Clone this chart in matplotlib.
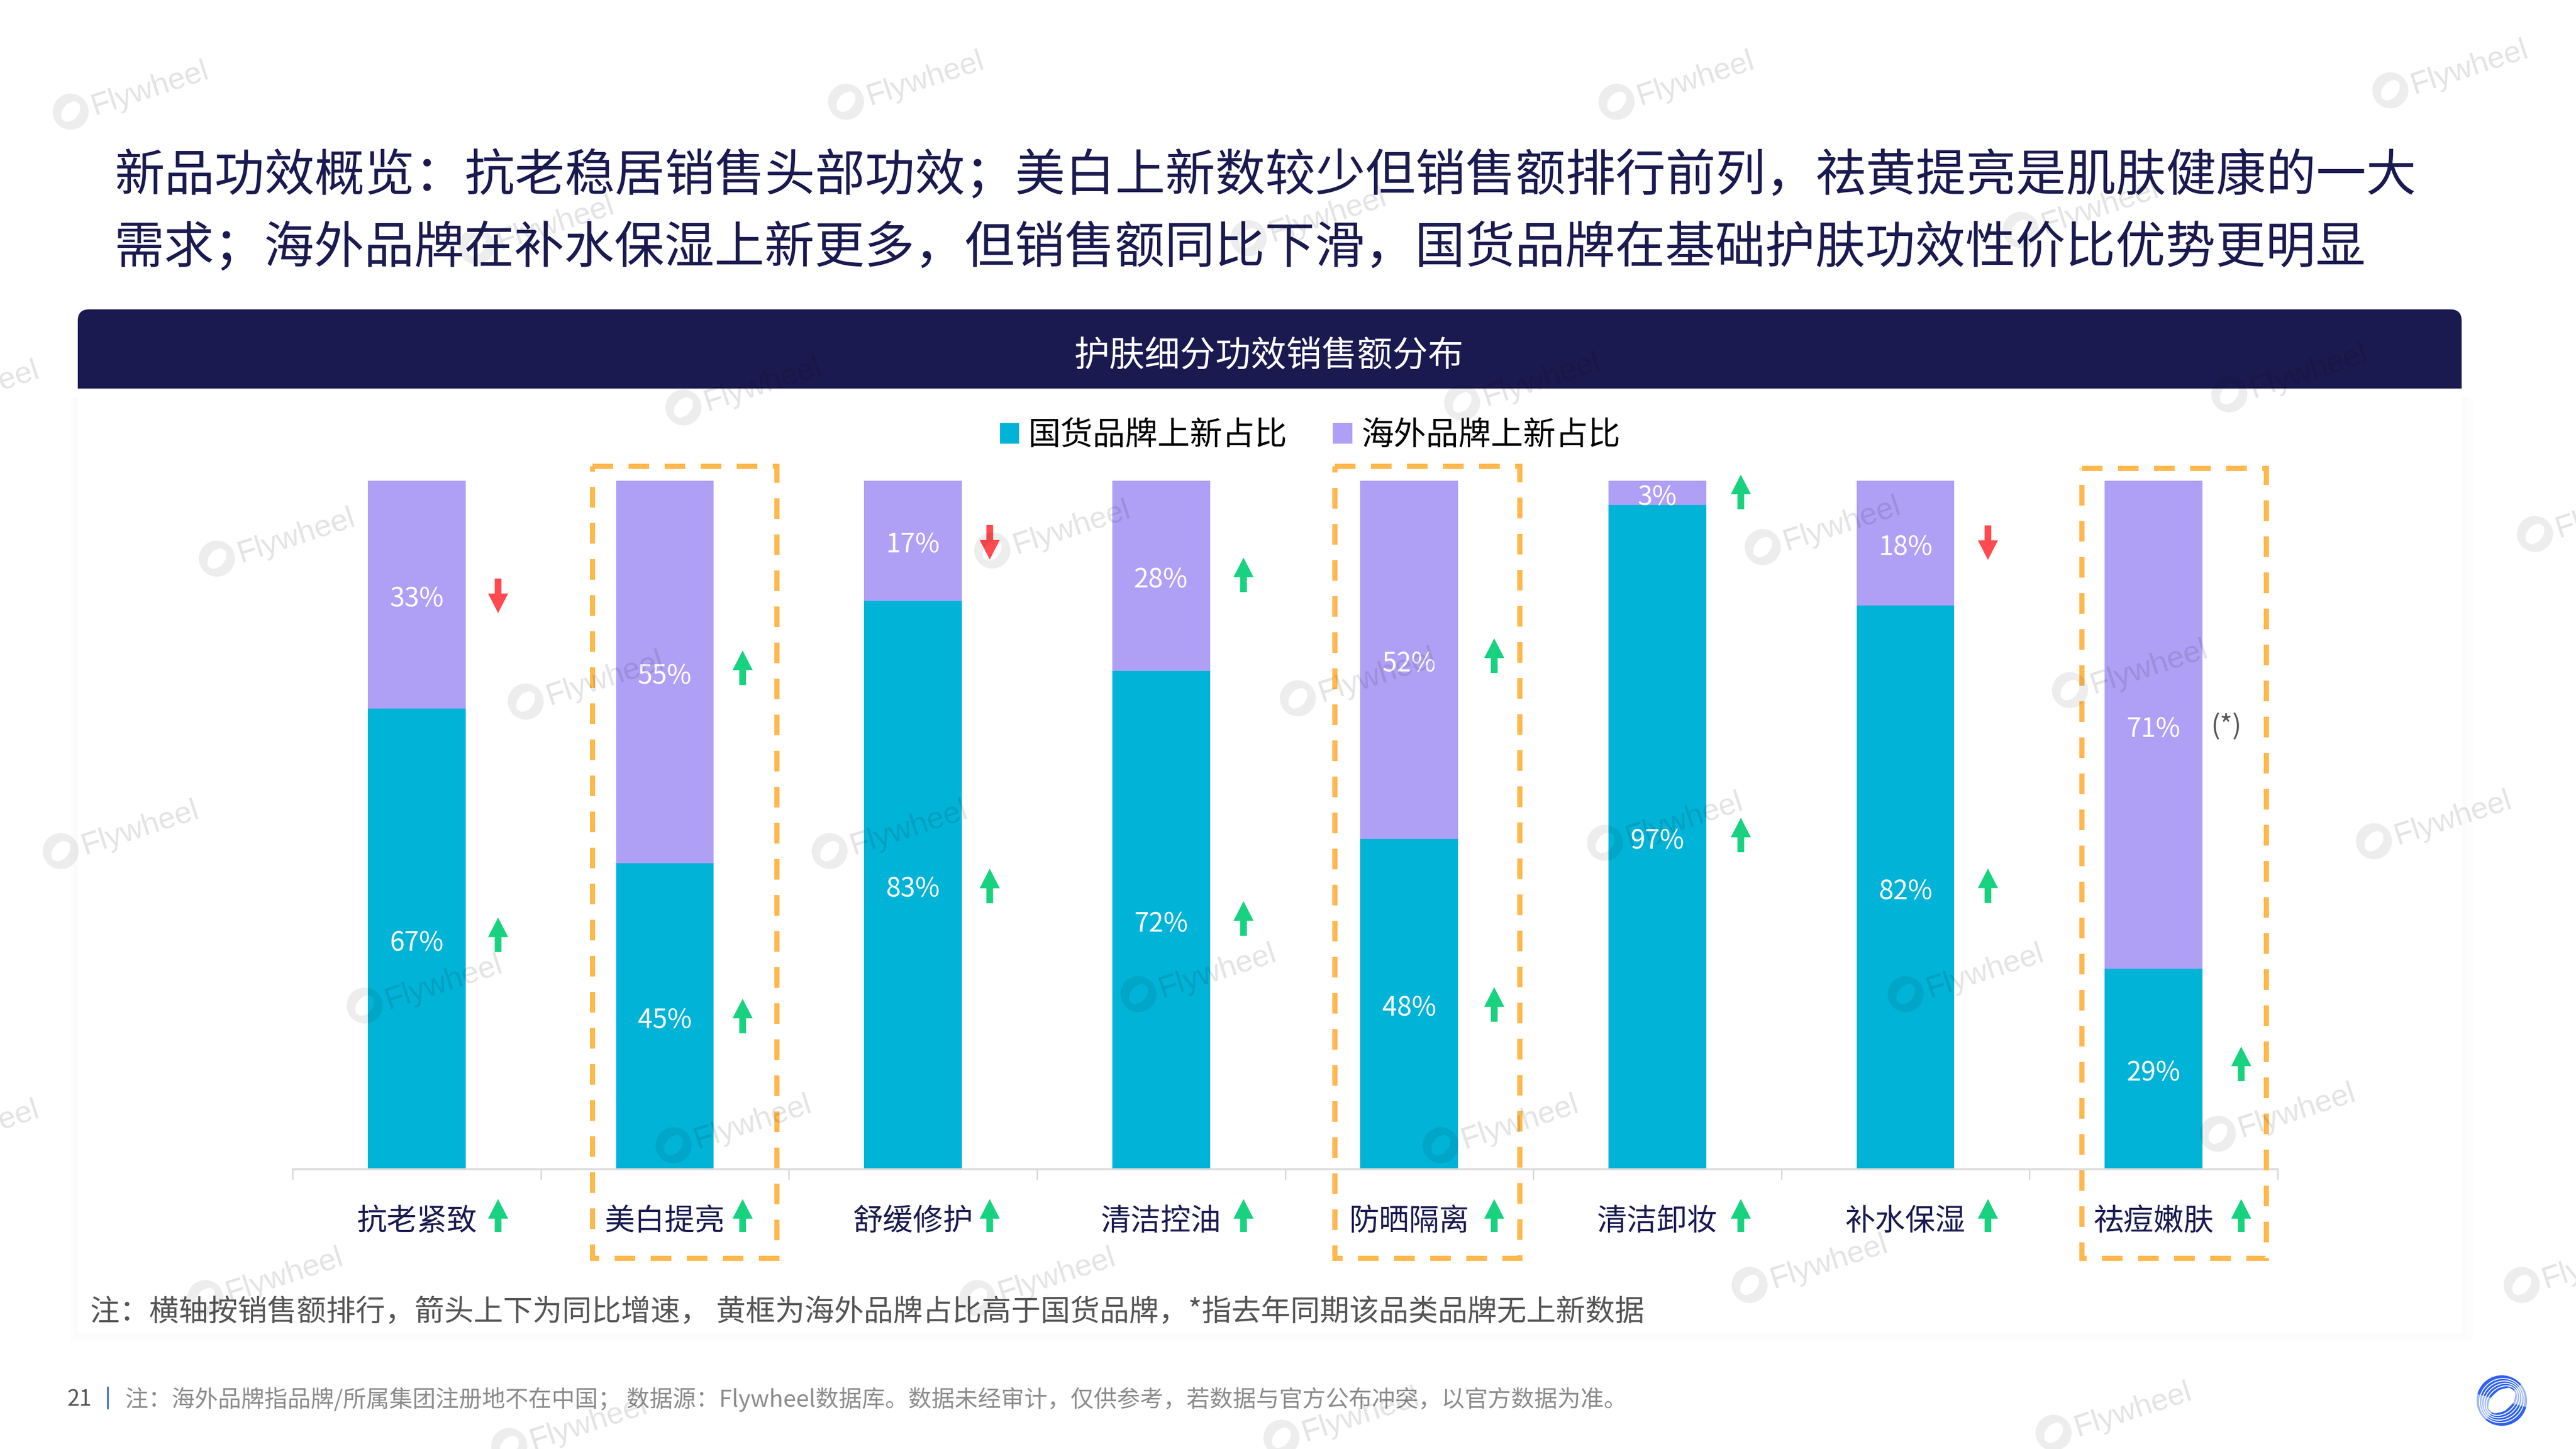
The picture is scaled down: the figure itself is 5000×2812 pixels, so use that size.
import matplotlib
matplotlib.use('Agg')
import matplotlib.pyplot as plt
from matplotlib.patches import FancyBboxPatch, Rectangle, Polygon, PathPatch, Ellipse, Wedge
from matplotlib.path import Path
from matplotlib.transforms import Affine2D

plt.rcParams['font.family'] = ['Noto Sans CJK SC', 'DejaVu Sans']

W, H = 5000, 2812
NAVY = '#1B1A50'
TEAL = '#00B3D7'
PURPLE = '#AFA0F6'
ORANGE = '#FFB84D'
RED = '#FF4B50'
GREEN = '#18D27F'

# 数据
categories = ['抗老紧致', '美白提亮', '舒缓修护', '清洁控油', '防晒隔离', '清洁卸妆', '补水保湿', '祛痘嫩肤']
domestic = [66.9, 44.5, 82.6, 72.4, 48.0, 96.5, 81.9, 29.1]
overseas = [33.1, 55.5, 17.4, 27.6, 52.0, 3.5, 18.1, 70.9]
domestic_labels = ['67%', '45%', '83%', '72%', '48%', '97%', '82%', '29%']
overseas_labels = ['33%', '55%', '17%', '28%', '52%', '3%', '18%', '71%']
# 同比方向: 1 上升, -1 下降, 0 无数据
category_trend = [1, 1, 1, 1, 1, 1, 1, 1]
domestic_trend = [1, 1, 1, 1, 1, 1, 1, 1]
overseas_trend = [-1, 1, -1, 1, 1, 1, -1, 0]
overseas_led = [1, 4, 7]

# 全角标点用转义写
title_lines = [
    '新品功效概览\uff1a抗老稳居销售头部功效\uff1b美白上新数较少但销售额排行前列\uff0c祛黄提亮是肌肤健康的一大',
    '需求\uff1b海外品牌在补水保湿上新更多\uff0c但销售额同比下滑\uff0c国货品牌在基础护肤功效性价比优势更明显',
]
chart_title = '护肤细分功效销售额分布'
legend_labels = ['国货品牌上新占比', '海外品牌上新占比']
note = ('注\uff1a横轴按销售额排行\uff0c箭头上下为同比增速\uff0c 黄框为海外品牌占比高于国货品牌\uff0c'
        '*指去年同期该品类品牌无上新数据')
footer = ('注\uff1a海外品牌指品牌/所属集团注册地不在中国\uff1b 数据源\uff1aFlywheel数据库。数据未经审计\uff0c'
          '仅供参考\uff0c若数据与官方公布冲突\uff0c以官方数据为准。')

# 布局(像素)
arrow_dx = [158, 151, 149, 160, 165, 162, 160, 170]
domestic_arrow_dy = [-8, 0, 2, -3, 1, -4, -3, -10]
overseas_arrow_dy = [2, -8, 3, -2, -8, -2, -1, 0]
box_tops = [905, 905, 909]
box_dx = [(-140, 218), (-144, 215), (-139, 219)]
watermarks = [
    (43, 68), (515, 62), (984, 62), (1455, 55),
    (-60, 250), (416, 248), (890, 245), (1357, 240),
    (290, 150), (760, 145), (1230, 140),
    (132, 340), (604, 335), (1073, 333), (1543, 325),
    (320, 427), (790, 425), (1260, 420),
    (37, 518), (505, 518), (977, 513), (1445, 512),
    (222, 612), (693, 605), (1160, 605),
    (-60, 700), (410, 697), (877, 697), (1350, 690),
    (125, 790), (595, 790), (1065, 782), (1535, 782),
    (310, 880), (780, 875), (1250, 872),
]
WM_SCALE = 5000 / 1568


def full_axes(fig, zorder):
    a = fig.add_axes([0, 0, 1, 1], zorder=zorder)
    a.set_xlim(0, W)
    a.set_ylim(H, 0)
    a.axis('off')
    a.patch.set_alpha(0)
    return a


def ring_path(cx, cy, rx, ry, hole_rx, hole_ry, angle):
    outer = Path.unit_circle().transformed(Affine2D().scale(rx, ry).translate(cx, cy))
    inner = Path.unit_circle().transformed(
        Affine2D().scale(hole_rx, hole_ry).rotate_deg(angle).translate(cx, cy))
    inner = Path(inner.vertices[::-1], inner.codes)
    return Path.make_compound_path(outer, inner)


def draw_arrow(a, x, y, direction, length=67):
    # 箭头: direction 1 向上, -1 向下
    head = 38 * direction
    tip = y - direction * length / 2
    tail = y + direction * length / 2
    pts = [(x, tip), (x + 19.5, tip + head), (x + 6.5, tip + head), (x + 6.5, tail),
           (x - 6.5, tail), (x - 6.5, tip + head), (x - 19.5, tip + head)]
    a.add_patch(Polygon(pts, closed=True, facecolor=GREEN if direction > 0 else RED, edgecolor='none'))


fig = plt.figure(figsize=(W / 300, (H + 0.2) / 300), dpi=300)
fig.patch.set_facecolor('white')

# 底层: 面板和标题
bg = full_axes(fig, 0)
bg.add_patch(Rectangle((136, 770), 4664, 1834, facecolor='#FDFDFD', edgecolor='none'))
bg.add_patch(Rectangle((144, 770), 4644, 1826, facecolor='#FBFBFB', edgecolor='none'))
bg.add_patch(Rectangle((151, 700), 4627, 1888, facecolor='white', edgecolor='none'))
bg.add_patch(FancyBboxPatch((151, 600.5), 4627, 300, boxstyle='round,pad=0,rounding_size=22',
                            facecolor=NAVY, edgecolor='none'))
bg.add_patch(Rectangle((151, 754), 4627, 160, facecolor='white', edgecolor='none'))
bg.text(222, 342, title_lines[0], fontsize=23.3, color=NAVY, va='center', ha='left')
bg.text(222, 482, title_lines[1], fontsize=23.3, color=NAVY, va='center', ha='left')
bg.text(2462, 692, chart_title, fontsize=16.5, color='white', va='center', ha='center')
bg.text(175, 2547, note, fontsize=13.76, color='#555555', va='center', ha='left')
bg.text(130, 2716, '21', fontsize=10.3, color='#555555', va='center', ha='left')
bg.add_patch(Rectangle((207.5, 2691), 3.5, 44, facecolor='#2A5CE0', edgecolor='none'))
bg.text(243, 2716, footer, fontsize=10.8, color='#8C8C8C', va='center', ha='left')

# 右下角 logo
LX, LY = 4856, 2718
bg.add_patch(PathPatch(ring_path(LX, LY, 49, 49, 30, 19, -40), facecolor='#2F62EE', edgecolor='none'))
for k in [0.19, 0.38, 0.57, 0.76]:
    bg.add_patch(Ellipse((LX, LY), 2 * (30 + 19 * k), 2 * (19 + 30 * k), angle=-40, fill=False,
                         edgecolor='white', linewidth=0.45))
bg.add_patch(Wedge((LX, LY), 50, 130, 195, width=28, facecolor='white', edgecolor='none', alpha=0.55))
bg.add_patch(Wedge((LX, LY), 50, -40, 15, width=28, facecolor='white', edgecolor='none', alpha=0.55))

# 柱状图
left, right, top, bottom = 568, 4421, 933.5, 2269
ax = fig.add_axes([left / W, 1 - bottom / H, (right - left) / W, (bottom - top) / H], zorder=1)
ax.patch.set_alpha(0)
x = list(range(len(categories)))
bars_d = ax.bar(x, domestic, width=0.394, color=TEAL, label=legend_labels[0])
bars_o = ax.bar(x, overseas, width=0.394, bottom=domestic, color=PURPLE, label=legend_labels[1])
for ann in ax.bar_label(bars_d, labels=domestic_labels, label_type='center', color='white', fontsize=12.4):
    ann.xyann = (0, -2)
for ann in ax.bar_label(bars_o, labels=overseas_labels, label_type='center', color='white', fontsize=12.4):
    ann.xyann = (0, -2)
ax.set_xlim(-0.5, len(categories) - 0.5)
ax.set_ylim(0, 100)
ax.set_yticks([])
ax.set_xticks(x)
ax.set_xticklabels(categories, fontsize=14, color=NAVY)
ax.set_xticks([i - 0.5 for i in range(len(categories) + 1)], minor=True)
ax.tick_params(axis='x', which='major', length=0, pad=17)
ax.tick_params(axis='x', which='minor', length=4.8, width=0.6, color='#D4D4D4')
for name in ['top', 'left', 'right']:
    ax.spines[name].set_visible(False)
ax.spines['bottom'].set_color('#DCDCDC')
ax.spines['bottom'].set_linewidth(0.9)

ax.legend(loc='center', bbox_to_anchor=(2543 / W, 1 - 845 / H), bbox_transform=fig.transFigure,
          ncol=2, frameon=False, fontsize=15.1, handlelength=0.6, handleheight=0.6,
          handletextpad=0.28, columnspacing=1.4, borderpad=0, borderaxespad=0)

# 上层: 箭头 黄框 水印
top_ax = full_axes(fig, 2)


def to_px(i, v):
    px, py = ax.transData.transform((i, v))
    return px, H - py


for i in x:
    cx, _ = to_px(i, 0)
    arrow_x = cx + arrow_dx[i]
    draw_arrow(top_ax, arrow_x, 2359, category_trend[i], length=64)
    _, y_d = to_px(i, domestic[i] / 2)
    draw_arrow(top_ax, arrow_x, y_d + domestic_arrow_dy[i], domestic_trend[i])
    if overseas_trend[i] != 0:
        _, y_o = to_px(i, domestic[i] + overseas[i] / 2)
        draw_arrow(top_ax, arrow_x, y_o + overseas_arrow_dy[i], overseas_trend[i])

_, y_star = to_px(7, domestic[7] + overseas[7] / 2)
top_ax.text(to_px(7, 0)[0] + 141, y_star + 3, '(*)', fontsize=12.5, color='#555555', ha='center', va='center')

for i, box_top, (dx0, dx1) in zip(overseas_led, box_tops, box_dx):
    cx, _ = to_px(i, 0)
    top_ax.add_patch(Rectangle((cx + dx0, box_top), dx1 - dx0, 2442 - box_top, fill=False, edgecolor=ORANGE,
                               linewidth=2.4, linestyle=(0, (4.0, 3.0))))

for wx, wy in watermarks:
    px, py = wx * WM_SCALE, wy * WM_SCALE
    top_ax.add_patch(PathPatch(ring_path(px, py, 35, 35, 22, 15, -50), facecolor='black',
                               edgecolor='none', alpha=0.07))
    top_ax.text(px + 46, py + 7, 'Flywheel', fontsize=14.4, color='black', alpha=0.11, rotation=18,
                rotation_mode='anchor', ha='left', va='baseline', family='Liberation Sans')

plt.savefig('out.png', dpi=300)
